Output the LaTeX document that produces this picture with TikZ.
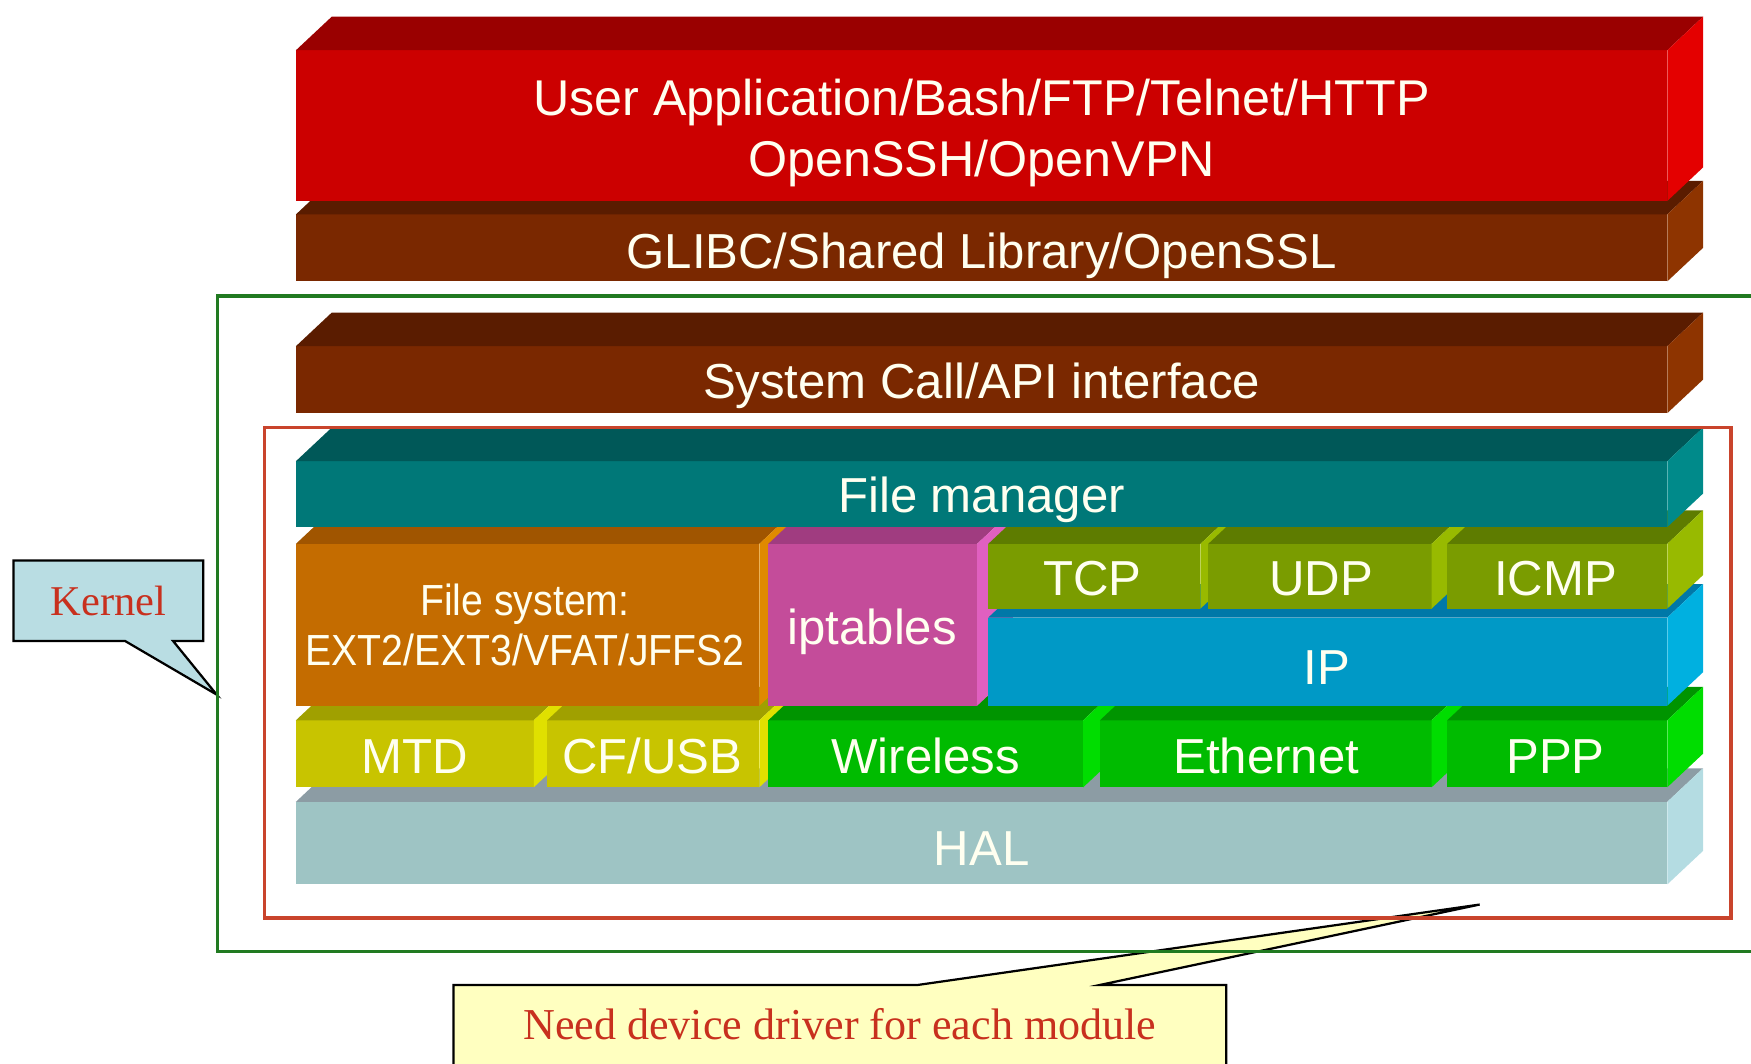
\documentclass[tikz,border=0pt]{standalone}
\usepackage{fontspec}
\newfontfamily\lsans{Liberation Sans}
\newfontfamily\lsanscond[FakeStretch=0.9]{Liberation Sans}
\newfontfamily\lserif{Liberation Serif}
\definecolor{redF}{HTML}{CC0000}\definecolor{redT}{HTML}{9A0000}\definecolor{redS}{HTML}{E40000}
\definecolor{brnF}{HTML}{7A2800}\definecolor{brnT}{HTML}{5A1C00}\definecolor{brnS}{HTML}{8E3400}
\definecolor{tealF}{HTML}{007878}\definecolor{tealT}{HTML}{005858}\definecolor{tealS}{HTML}{008A8A}
\definecolor{orgF}{HTML}{C46C00}\definecolor{orgT}{HTML}{A05500}\definecolor{orgS}{HTML}{E08A00}
\definecolor{pnkF}{HTML}{C44C9A}\definecolor{pnkT}{HTML}{A03C80}\definecolor{pnkS}{HTML}{E060C0}
\definecolor{oliF}{HTML}{7A9C00}\definecolor{oliT}{HTML}{5E7C00}\definecolor{oliS}{HTML}{98BA00}
\definecolor{bluF}{HTML}{0099C6}\definecolor{bluT}{HTML}{0078A8}\definecolor{bluS}{HTML}{00B0E0}
\definecolor{yelF}{HTML}{C8C400}\definecolor{yelT}{HTML}{A0A000}\definecolor{yelS}{HTML}{E0E000}
\definecolor{grnF}{HTML}{00BB00}\definecolor{grnT}{HTML}{009400}\definecolor{grnS}{HTML}{00DD00}
\definecolor{halF}{HTML}{9EC4C4}\definecolor{halT}{HTML}{8C9CA4}\definecolor{halS}{HTML}{B4DCE2}
\definecolor{txtC}{HTML}{FFFFF0}
\definecolor{kernFrame}{HTML}{217A21}
\definecolor{modFrame}{HTML}{C9442C}
\definecolor{kblue}{HTML}{B9DDE3}
\definecolor{nyel}{HTML}{FFFFC0}
\definecolor{calltxt}{HTML}{C8301E}
% x1 y1 x2 y2 front top side
\newcommand\slab[7]{%
  \fill[#5] (#1,#2) rectangle (#3,#4);
  \fill[#6] (#1,#2) -- (#1+32,#2-30) -- (#3+32,#2-30) -- (#3,#2) -- cycle;
  \fill[#7] (#3,#2) -- (#3+32,#2-30) -- (#3+32,#4-30) -- (#3,#4) -- cycle;
}
\begin{document}
\begin{tikzpicture}[x=1pt,y=-1pt,
  lbl/.style={text=txtC,font=\lsans\fontsize{44}{55}\selectfont,inner sep=0pt,anchor=base},
  smalllbl/.style={text=txtC,font=\lsanscond\fontsize{39}{45}\selectfont,inner sep=0pt,anchor=base},
  frame/.style={line width=3pt},
  callout/.style={draw=black,line width=2pt,line join=miter},
  calltext/.style={text=calltxt,inner sep=0pt}]
\useasboundingbox (0,0) rectangle (1568,952);
\clip (0,0) rectangle (1568,952);
% callouts
\coordinate (ktip) at (194,622);
\coordinate (dtip) at (1325,810);
\draw[callout,fill=kblue] (12,502) -- (182,502) -- (182,574) -- (155,574) -- (ktip) -- (112,574) -- (12,574) -- cycle;
\node[calltext,font=\lserif\fontsize{38}{44}\selectfont] (kernel) at (97,538) {Kernel};
\draw[callout,fill=nyel] (406,882) -- (822,882) -- (dtip) -- (985,882) -- (1098,882) -- (1098,975) -- (406,975) -- cycle;
\node[calltext,font=\lserif\fontsize{39.5}{44}\selectfont] (need) at (752,917) {Need device driver for each module};
% slabs, bottom to top, left to right
\slab{265}{718}{1493}{792}{halF}{halT}{halS}
\slab{265}{645}{478}{705}{yelF}{yelT}{yelS}
\slab{490}{645}{680}{705}{yelF}{yelT}{yelS}
\slab{688}{645}{970}{705}{grnF}{grnT}{grnS}
\slab{985}{645}{1282}{705}{grnF}{grnT}{grnS}
\slab{1296}{645}{1493}{705}{grnF}{grnT}{grnS}
\slab{265}{487}{680}{632}{orgF}{orgT}{orgS}
\slab{688}{487}{875}{632}{pnkF}{pnkT}{pnkS}
\slab{885}{553}{1493}{632}{bluF}{bluT}{bluS}
\slab{885}{487}{1075}{545}{oliF}{oliT}{oliS}
\slab{1082}{487}{1282}{545}{oliF}{oliT}{oliS}
\slab{1296}{487}{1493}{545}{oliF}{oliT}{oliS}
\slab{265}{413}{1493}{472}{tealF}{tealT}{tealS}
\slab{265}{310}{1493}{370}{brnF}{brnT}{brnS}
\slab{265}{192}{1493}{252}{brnF}{brnT}{brnS}
\slab{265}{45}{1493}{180}{redF}{redT}{redS}
% labels
\node[lbl,font=\lsans\fontsize{45}{55}\selectfont] (ua1) at (879,103) {User Application/Bash/FTP/Telnet/HTTP};
\node[lbl,font=\lsans\fontsize{45}{55}\selectfont] (ua2) at (879,158) {OpenSSH/OpenVPN};
\node[lbl] (glibc) at (879,240) {GLIBC/Shared Library/OpenSSL};
\node[lbl] (sc) at (879,357) {System Call/API interface};
\node[lbl] (fm) at (879,459) {File manager};
\node[smalllbl] (fs1) at (470,551) {File system:};
\node[smalllbl] (fs2) at (470,596) {EXT2/EXT3/VFAT/JFFS2};
\node[lbl] (ipt) at (781,577) {iptables};
\node[lbl] (tcp) at (978,533) {TCP};
\node[lbl] (udp) at (1183,533) {UDP};
\node[lbl] (icmp) at (1393,533) {ICMP};
\node[lbl] (ip) at (1188,613) {IP};
\node[lbl] (mtd) at (371,693) {MTD};
\node[lbl] (cfusb) at (584,693) {CF/USB};
\node[lbl] (wl) at (829,693) {Wireless};
\node[lbl] (eth) at (1134,693) {Ethernet};
\node[lbl] (ppp) at (1393,693) {PPP};
\node[lbl] (hal) at (879,775) {HAL};
% frames
\draw[frame,draw=kernFrame] (1600,265) -- (195,265) -- (195,852) -- (1600,852);
\draw[frame,draw=modFrame] (237,383) rectangle (1550,822);
\end{tikzpicture}
\end{document}
